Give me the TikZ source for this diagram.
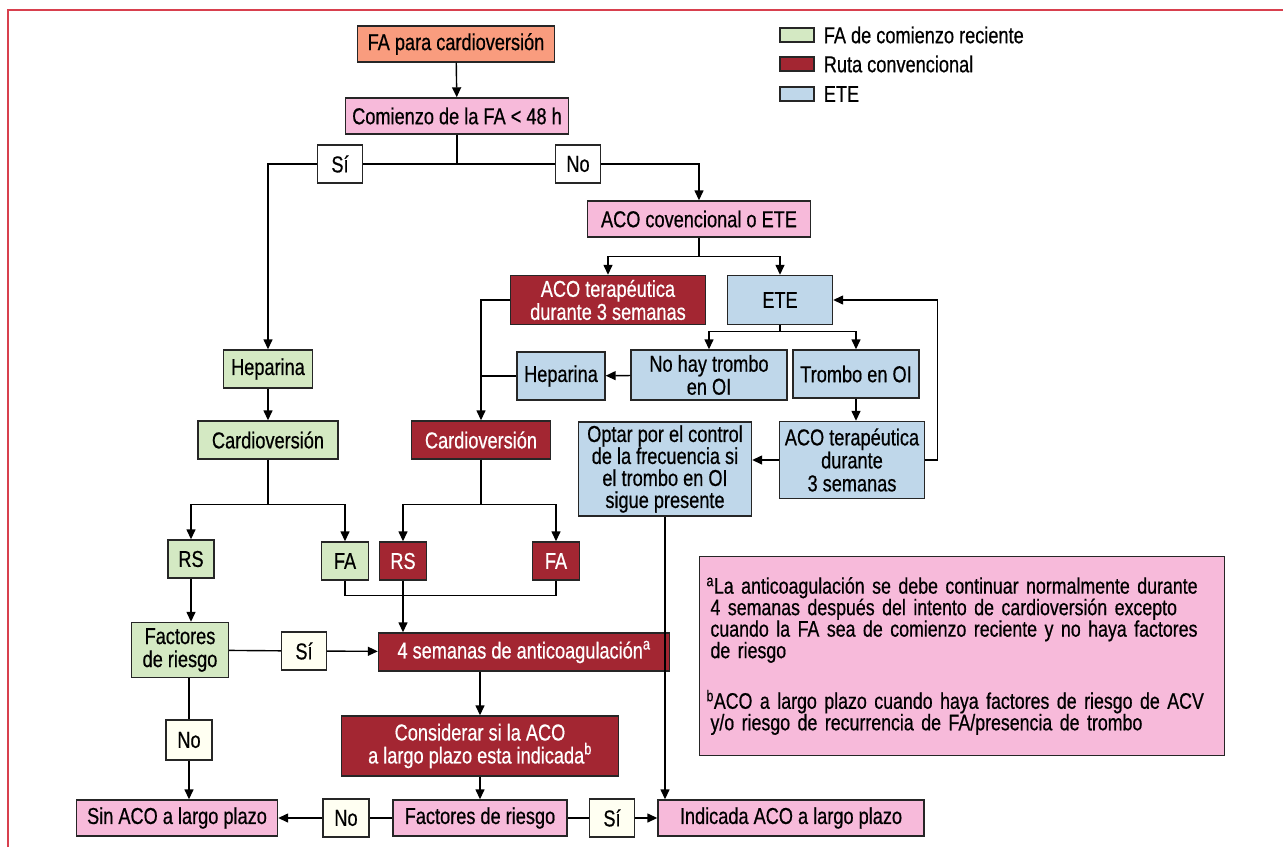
\documentclass[tikz,border=0pt]{standalone}
\usepackage{fontspec}
\setmainfont{Liberation Sans}[FakeStretch=0.79, FakeBold=0.6]
\usetikzlibrary{
	arrows.meta,
	calc,
	positioning,
}
\definecolor{salmon}{HTML}{F99C7E}
\definecolor{rosa}{HTML}{F7BADA}
\definecolor{verde}{HTML}{D4E9C3}
\definecolor{rojo}{HTML}{A32632}
\definecolor{azul}{HTML}{BFD7EA}
\definecolor{marco}{HTML}{D8404E}
\definecolor{marfil}{HTML}{FFFFF2}
\tikzset{base box/.style={
	draw=black!85,
	line width=1.4pt,
	inner sep=2pt,
	align=center,
	font=\fontsize{23}{23}\selectfont,
}}
\tikzset{
	salmon box/.style={base box, fill=salmon},
	pink box/.style={base box, fill=rosa},
	green box/.style={base box, fill=verde},
	red box/.style={base box, fill=rojo, text=white},
	blue box/.style={base box, fill=azul},
	answer/.style={base box, fill=white, minimum width=45pt, minimum height=38pt},
	answer low/.style={answer, fill=marfil},
	legend box/.style={draw=black!85, line width=1.2pt, minimum width=34pt, minimum height=14pt, inner sep=0pt},
	legend text/.style={inner sep=0pt, font=\fontsize{23}{23}\selectfont},
	flow/.style={line width=1.4pt, -{Triangle[length=10pt,width=9pt]}},
	link/.style={line width=1.4pt},
}

\begin{document}
\begin{tikzpicture}[x=1pt, y=-1pt]

\useasboundingbox (0,0) rectangle (1283,847);
\draw[marco, line width=2pt] (8,847) -- (8,10) -- (1283,10);

% main column
\node(fapc)[salmon box, minimum width=197pt, minimum height=36pt] at (456,44) {FA para cardioversión};
\node(comienzo)[pink box, minimum width=223pt, minimum height=36pt] at (457,116) {Comienzo de la FA < 48 h};
\node(siA)[answer] at (340,164) {Sí};
\node(noA)[answer] at (578,164) {No};
\node(acoEte)[pink box, minimum width=223pt, minimum height=36pt] at (699,219) {ACO covencional o ETE};

% conventional route and ETE
\node(acoRed)[red box, minimum width=195pt, minimum height=49pt] at (608,300) {ACO terapéutica\\durante 3 semanas};
\node(ete)[blue box, minimum width=105pt, minimum height=49pt] at (780,300) {ETE};
\node(noTr)[blue box, minimum width=156pt, minimum height=50pt] at (709,375) {No hay trombo\\en OI};
\node(tr)[blue box, minimum width=126pt, minimum height=48pt] at (856,374) {Trombo en OI};
\node(hepB)[blue box, minimum width=88pt, minimum height=48pt] at (561,376) {Heparina};
\node(acoB)[blue box, minimum width=145pt, minimum height=77pt] at (852,460) {ACO terapéutica\\durante\\3 semanas};
\node(optar)[blue box, minimum width=173pt, minimum height=94pt, font=\fontsize{23}{22}\selectfont] at (665,469) {Optar por el control\\de la frecuencia si\\el trombo en OI\\sigue presente};
\node(cardioR)[red box, minimum width=139pt, minimum height=38pt] at (481,440) {Cardioversión};
\node(rsR)[red box, minimum width=47pt, minimum height=38pt] at (403,561) {RS};
\node(faR)[red box, minimum width=47pt, minimum height=38pt] at (556,561) {FA};

% recent onset
\node(hepG)[green box, minimum width=89pt, minimum height=38pt] at (268,369) {Heparina};
\node(cardioG)[green box, minimum width=140pt, minimum height=38pt] at (268,440) {Cardioversión};
\node(rsG)[green box, minimum width=46pt, minimum height=38pt] at (191,559) {RS};
\node(faG)[green box, minimum width=47pt, minimum height=38pt] at (345,561) {FA};
\node(facG)[green box, minimum width=97pt, minimum height=55pt] at (180,650) {Factores\\de riesgo};
\node(siB)[answer low] at (304,651) {Sí};
\node(noB)[answer low, minimum width=46pt, minimum height=40pt] at (189,740) {No};

% common end
\node(cuatro)[red box, minimum width=291pt, minimum height=38pt] at (524,652) {4 semanas de anticoagulación\textsuperscript{a}};
\node(considerar)[red box, minimum width=277pt, minimum height=60pt] at (480,746) {Considerar si la ACO\\a largo plazo esta indicada\textsuperscript{b}};
\node(sinAco)[pink box, minimum width=201pt, minimum height=36pt] at (177,818) {Sin ACO a largo plazo};
\node(noC)[answer low, minimum width=46pt] at (346,818) {No};
\node(facR)[pink box, minimum width=174pt, minimum height=36pt] at (480,818) {Factores de riesgo};
\node(siC)[answer low] at (612,818) {Sí};
\node(indicada)[pink box, minimum width=266pt, minimum height=36pt] at (791,818) {Indicada ACO a largo plazo};

% legend
\node(legG)[legend box, fill=verde] at (797,35) {};
\node(legR)[legend box, fill=rojo] at (797,64) {};
\node(legB)[legend box, fill=azul] at (797,94) {};
\node[legend text, right=9pt of legG] {FA de comienzo reciente};
\node[legend text, right=9pt of legR] {Ruta convencional};
\node[legend text, right=9pt of legB] {ETE};

% notes
\node(notas)[base box, fill=rosa, align=left, text width=511pt, minimum height=199pt, inner sep=7pt, font=\fontsize{22.5}{21.5}\selectfont] at (962,656)
{\textsuperscript{a}La anticoagulación se debe continuar normalmente durante\\
\hspace*{4pt}4 semanas después del intento de cardioversión excepto\\
\hspace*{4pt}cuando la FA sea de comienzo reciente y no haya factores\\
\hspace*{4pt}de riesgo\\[26pt]
\textsuperscript{b}ACO a largo plazo cuando haya factores de riesgo de ACV\\
\hspace*{4pt}y/o riesgo de recurrencia de FA/presencia de trombo};

% connectors
\draw[flow] (fapc) -- (comienzo);
\draw[link] (comienzo.south) |- (siA.east);
\draw[flow] (siA.west) -| (hepG.north);
\draw[link] (comienzo.south) |- (noA.west);
\draw[flow] (noA.east) -| (acoEte.north);

\draw[flow] (acoEte.south) -- ++(0,19) -| (acoRed.north);
\draw[flow] (acoEte.south) -- ++(0,19) -| (ete.north);
\draw[flow] (ete.south) -- ++(0,6) -| (noTr.north);
\draw[flow] (ete.south) -- ++(0,6) -| (tr.north);
\draw[flow] (noTr) -- (hepB);
\draw[flow] (acoRed.west) -| (cardioR.north);
\draw[link] (hepB.west) -- (hepB.west -| cardioR.north);
\draw[flow] (tr.south) -- (tr.south |- acoB.north);
\draw[flow] (acoB.west) -- (acoB.west -| optar.east);
\draw[flow] (acoB.east) -- ++(12,0) |- (ete.east);
\draw[flow] (optar.south) -- (optar.south |- indicada.north);

\draw[flow] (hepG) -- (cardioG);
\draw[flow] (cardioG.south) -- ++(0,45) -| (rsG.north);
\draw[flow] (cardioG.south) -- ++(0,45) -| (faG.north);
\draw[flow] (cardioR.south) -- ++(0,45) -| (rsR.north);
\draw[flow] (cardioR.south) -- ++(0,45) -| (faR.north);
\draw[link] (faG.south) -- ++(0,15) -| (faR.south);
\draw[flow] (rsR.south) -- (rsR.south |- cuatro.north);
\draw[flow] (rsG.south) -- (rsG.south |- facG.north);

\draw[link] (facG) -- (siB);
\draw[flow] (siB) -- (cuatro);
\draw[link] (facG.south -| noB.north) -- (noB.north);
\draw[flow] (noB.south) -- (noB.south |- sinAco.north);
\draw[flow] (cuatro.south -| considerar.north) -- (considerar.north);
\draw[flow] (considerar) -- (facR);
\draw[link] (facR) -- (noC);
\draw[flow] (noC) -- (sinAco);
\draw[link] (facR) -- (siC);
\draw[flow] (siC) -- (indicada);

\end{tikzpicture}
\end{document}
